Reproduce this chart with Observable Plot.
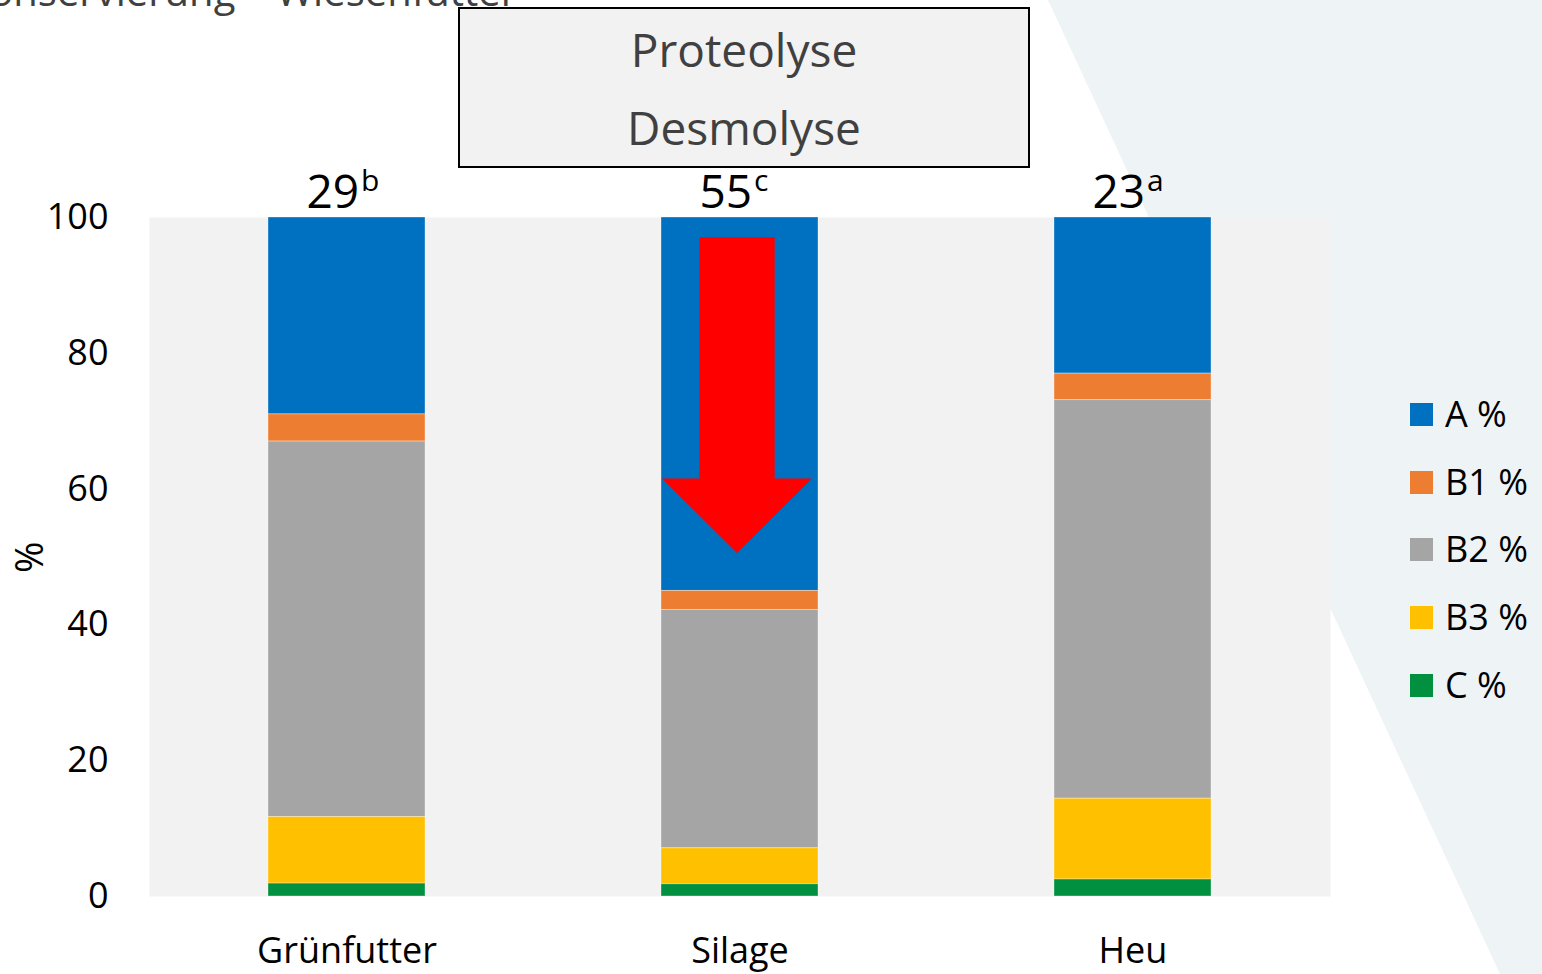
<!DOCTYPE html>
<html>
<head>
<meta charset="utf-8">
<script src="https://cdn.jsdelivr.net/npm/d3@7"></script>
<script src="https://cdn.jsdelivr.net/npm/@observablehq/plot@0.6"></script>
<style>
  body { margin: 0; background: #ffffff; }
  #page { position: relative; width: 1542px; height: 974px; overflow: hidden; font-family: "Open Sans", sans-serif; }
  #deco { position: absolute; left: 0; top: 0; }
  #chart { position: absolute; left: 0; top: 0; }
  #heading { position: absolute; right: 1025px; top: -29px; font-size: 40px; line-height: 40px; white-space: nowrap; color: #404040; }
  #processes { position: absolute; left: 458px; top: 7px; width: 568px; height: 156px; border: 2px solid #000; background: #f2f2f2;
               text-align: center; font-size: 46px; line-height: 78px; color: #404040; padding-top: 1px; box-sizing: content-box; }
  #legend { position: absolute; left: 1410px; top: 0; }
  .item { position: absolute; left: 0; height: 0; white-space: nowrap; }
  .swatch { position: absolute; left: 0; top: -11px; width: 23px; height: 23px; }
  .lab { position: absolute; left: 35px; top: -25px; font-size: 36px; line-height: 50px; color: #000; }
</style>
</head>
<body>
<div id="page">
  <svg id="deco" width="1542" height="974"><polygon points="1048,0 1542,0 1542,974 1500,974" fill="#eef3f6"></polygon></svg>
  <div id="chart"></div>
  <div id="heading">Konservierung – Wiesenfutter</div>
  <div id="processes"><div>Proteolyse</div><div>Desmolyse</div></div>
  <div id="legend"></div>
</div>
<script>
// Protein fractions (CNCPS) of meadow forage by conservation method, in % of crude protein
const feeds = ["Grünfutter", "Silage", "Heu"];
const fractions = ["A %", "B1 %", "B2 %", "B3 %", "C %"];
const colors = ["#0070c0", "#ed7d31", "#a5a5a5", "#ffc000", "#00903f"];

const fracA  = [29, 55, 23];
const fracB1 = [4.0, 2.8, 3.9];
const fracB2 = [55.3, 35.1, 58.7];
const fracB3 = [9.8, 5.3, 11.9];
const fracC  = [1.9, 1.8, 2.5];

// significance letters for fraction A
const letters = ["b", "c", "a"];

const series = [fracA, fracB1, fracB2, fracB3, fracC];
const rows = [];
feeds.forEach((f, i) => {
  fractions.forEach((fr, j) => rows.push({feed: f, fraction: fr, value: series[j][i]}));
});
const labels = feeds.map((f, i) => ({feed: f, a: fracA[i], letter: letters[i]}));

// downward arrow inside the silage bar (degradation of true protein)
const arrow = {feed: "Silage", top: 97, neck: 61.5, tip: 50.5, shaft: 0.48, head: 0.955};

function arrowMark(index, scales) {
  const x0 = scales.x(arrow.feed);
  const bw = scales.x.bandwidth();
  const cx = x0 + bw / 2 - 2.5;
  const y = scales.y;
  const sw = bw * arrow.shaft / 2, hw = bw * arrow.head / 2;
  const pts = [
    [cx - sw, y(arrow.top)], [cx + sw, y(arrow.top)], [cx + sw, y(arrow.neck)],
    [cx + hw, y(arrow.neck)], [cx, y(arrow.tip)], [cx - hw, y(arrow.neck)], [cx - sw, y(arrow.neck)]
  ];
  const p = document.createElementNS("http://www.w3.org/2000/svg", "path");
  p.setAttribute("d", "M" + pts.map(d => d.join(",")).join("L") + "Z");
  p.setAttribute("fill", "#ff0000");
  return p;
}

const chart = Plot.plot({
  width: 1542,
  height: 974,
  marginLeft: 149,
  marginRight: 212,
  marginTop: 217,
  marginBottom: 78,
  style: {fontFamily: "Open Sans, sans-serif", fontSize: "36px", background: "transparent", color: "#000"},
  x: {domain: feeds, paddingInner: 0.6, paddingOuter: 0.3, label: null},
  y: {domain: [0, 100], ticks: [0, 20, 40, 60, 80, 100], label: null},
  color: {domain: fractions, range: colors},
  marks: [
    Plot.frame({fill: "#f2f2f2", stroke: null}),
    Plot.barY(rows, {
      x: "feed", y: "value", fill: "fraction",
      order: ["C %", "B3 %", "B2 %", "B1 %", "A %"],
      stroke: "#ffffff", strokeOpacity: 0.35, strokeWidth: 1
    }),
    arrowMark,
    Plot.axisY({ticks: [0, 20, 40, 60, 80, 100], tickSize: 0, tickPadding: 41, label: null}),
    Plot.axisX({tickSize: 0, tickPadding: 41, label: null}),
    Plot.text(["%"], {text: d => d, frameAnchor: "left", rotate: -90, dx: -119, dy: 16, fontSize: 38}),
    Plot.text(labels, {x: "feed", y: () => 100, text: d => String(d.a), textAnchor: "end", lineAnchor: "bottom", dx: 12, dy: -10, fontSize: 46, fill: "#000"}),
    Plot.text(labels, {x: "feed", y: () => 100, text: "letter", textAnchor: "start", lineAnchor: "bottom", dx: 14, dy: -27, fontSize: 30, fill: "#000"})
  ]
});
document.getElementById("chart").appendChild(chart);

// legend, top entry first
const legend = document.getElementById("legend");
const rowY = [414, 482, 549, 617, 685];
fractions.forEach((fr, i) => {
  const item = document.createElement("div");
  item.className = "item";
  item.style.top = rowY[i] + "px";
  item.innerHTML = `<div class="swatch" style="background:${colors[i]}"></div><div class="lab">${fr}</div>`;
  legend.appendChild(item);
});
</script>
</body>
</html>
